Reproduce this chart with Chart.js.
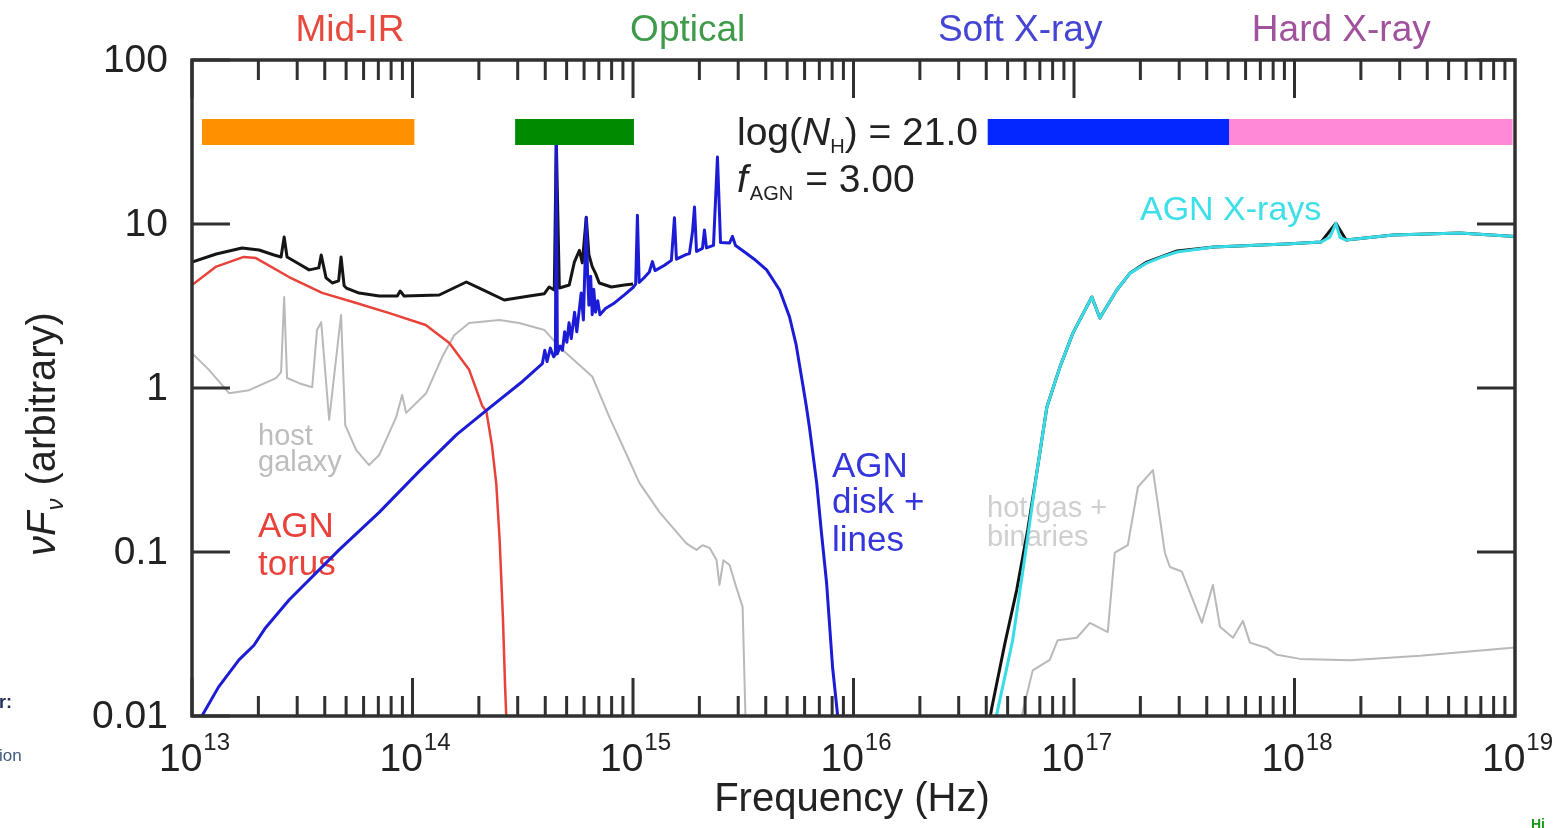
<!DOCTYPE html>
<html>
<head>
<meta charset="utf-8">
<script src="https://cdn.jsdelivr.net/npm/chart.js@4.4.1/dist/chart.umd.min.js"></script>
<style>
  html, body { margin: 0; padding: 0; background: #fff; overflow: hidden; }
  #wrap { position: relative; width: 1557px; height: 828px; }
  canvas { display: block; }
  .edge { position: absolute; font-family: "Liberation Sans", Arial, sans-serif; white-space: nowrap; }
</style>
</head>
<body>
<div id="wrap">
  <canvas id="sed" width="1557" height="828"></canvas>
  <div class="edge" style="left:-1px;top:692px;font-size:18px;font-weight:bold;color:#1d2f5a">r:</div>
  <div class="edge" style="left:-1px;top:746px;font-size:17px;color:#3d5a80">ion</div>
  <div class="edge" style="left:1531px;top:816px;font-size:14px;font-weight:bold;color:#1a9a1a">Hi</div>
</div>
<script>
// SED components, x = log10(frequency / Hz), y = nuF_nu (arbitrary)
const totalLogNu = [13.0, 13.11, 13.227, 13.304, 13.372, 13.404, 13.418, 13.431, 13.486, 13.531, 13.575, 13.586,
  13.608, 13.636, 13.665, 13.676, 13.69, 13.70, 13.758, 13.849, 13.931, 13.944, 13.962, 14.121, 14.244, 14.303,
  14.416, 14.53, 14.598, 14.62, 14.643, 14.652, 14.666, 14.711, 14.734, 14.757, 14.77, 14.788, 14.80, 14.815,
  14.83, 14.847, 14.902, 14.961, 15.0];
const totalFlux = [5.86, 6.56, 7.14, 6.94, 6.47, 6.29, 8.34, 6.29, 5.70, 5.25, 5.4, 6.47,
  4.69, 4.37, 4.5, 6.29, 4.2, 4.07, 3.79, 3.64, 3.64, 3.9, 3.64, 3.69, 4.43, 4.07,
  3.44, 3.64, 3.76, 4.13, 3.96, 33, 4.07, 4.25, 5.86, 6.9, 5.8, 11.0, 6.5, 5.5,
  5.0, 4.37, 4.13, 4.25, 4.3];

const totalXLogNu = [16.618, 16.627, 16.686, 16.74, 16.79, 16.831, 16.877, 16.936, 16.995, 17.081, 17.117, 17.194,
  17.253, 17.33, 17.4, 17.467, 17.635, 17.96, 18.12, 18.188, 18.234, 18.447, 18.75, 19.0];
const totalXFlux = [0.0095, 0.0112, 0.0275, 0.0586, 0.136, 0.303, 0.766, 1.34, 2.16, 3.59, 2.67, 3.96,
  5.0, 5.86, 6.35, 6.85, 7.24, 7.55, 7.76, 10.1, 7.98, 8.57, 8.8, 8.4];

const torusLogNu = [13.0, 13.11, 13.235, 13.29, 13.44, 13.59, 13.745, 13.895, 14.06, 14.167, 14.257, 14.316,
  14.335, 14.36, 14.38, 14.395, 14.41, 14.42, 14.428];
const torusFlux = [4.25, 5.5, 6.3, 6.2, 4.75, 3.8, 3.3, 2.86, 2.42, 1.88, 1.29, 0.78,
  0.72, 0.45, 0.26, 0.12, 0.04, 0.015, 0.008];

const hostLogNu = [13.0, 13.077, 13.168, 13.259, 13.381, 13.404, 13.418, 13.431, 13.486, 13.545, 13.567, 13.586,
  13.622, 13.676, 13.695, 13.744, 13.803, 13.849, 13.926, 13.953, 13.971, 14.062, 14.135, 14.189, 14.257, 14.394,
  14.484, 14.598, 14.666, 14.757, 14.816, 14.893, 14.961, 15.029, 15.12, 15.242, 15.288, 15.315, 15.347, 15.379,
  15.392, 15.41, 15.438, 15.465, 15.497, 15.51, 15.515];
const hostFlux = [1.63, 1.29, 0.93, 0.97, 1.15, 1.25, 3.59, 1.15, 1.07, 1.01, 2.26, 2.52,
  0.64, 2.79, 0.594, 0.42, 0.339, 0.39, 0.665, 0.906, 0.705, 0.93, 1.55, 2.10, 2.49, 2.60,
  2.49, 2.26, 1.78, 1.38, 1.17, 0.665, 0.42, 0.264, 0.175, 0.113, 0.103, 0.110, 0.106, 0.0893,
  0.063, 0.089, 0.0834, 0.063, 0.0463, 0.01, 0.0078];

const gasLogNu = [16.745, 16.759, 16.813, 16.89, 16.926, 17.013, 17.072, 17.153, 17.185, 17.244, 17.29, 17.358,
  17.412, 17.435, 17.489, 17.58, 17.63, 17.662, 17.721, 17.766, 17.798, 17.875, 17.921, 18.025, 18.252, 18.57, 19.0];
const gasFlux = [0.0085, 0.0096, 0.019, 0.022, 0.029, 0.030, 0.037, 0.0325, 0.099, 0.110, 0.249, 0.316,
  0.099, 0.081, 0.076, 0.037, 0.063, 0.035, 0.030, 0.038, 0.028, 0.026, 0.0236, 0.0223, 0.0219, 0.0233, 0.0262];

const diskLogNu = [13.045, 13.12, 13.213, 13.281, 13.33, 13.44, 13.667, 13.85, 14.03, 14.2, 14.335, 14.5, 14.589,
  14.60, 14.61, 14.625, 14.64, 14.648, 14.652, 14.657, 14.67, 14.68, 14.69, 14.70, 14.71, 14.72, 14.735, 14.745,
  14.765, 14.775, 14.782, 14.788, 14.794, 14.80, 14.808, 14.815, 14.822, 14.83, 14.84, 14.85, 14.875, 14.916,
  14.961, 15.0, 15.012, 15.02, 15.028, 15.05, 15.074, 15.088, 15.10, 15.143, 15.174, 15.188, 15.197, 15.24,
  15.256, 15.27, 15.279, 15.288, 15.315, 15.324, 15.333, 15.365, 15.383, 15.397, 15.438, 15.451, 15.465, 15.506,
  15.55, 15.606, 15.665, 15.71, 15.74, 15.769, 15.785, 15.80, 15.833, 15.855, 15.878, 15.905, 15.93];
const diskFlux = [0.01, 0.015, 0.022, 0.027, 0.034, 0.051, 0.103, 0.175, 0.31, 0.52, 0.73, 1.1, 1.41,
  1.7, 1.45, 1.75, 1.55, 1.6, 33, 1.62, 1.8, 1.7, 2.2, 1.9, 2.5, 2.0, 2.9, 2.2,
  3.8, 2.6, 5.5, 10.9, 5.0, 3.2, 4.8, 2.8, 4.0, 2.9, 3.4, 2.8, 3.05, 3.3,
  3.7, 4.1, 4.3, 11.3, 4.4, 4.7, 5.1, 5.9, 5.2, 5.6, 6.0, 10.9, 6.1, 6.5,
  6.6, 9.0, 12.7, 6.8, 7.1, 9.2, 7.15, 7.4, 25.6, 7.7, 7.66, 8.4, 7.4, 6.75,
  6.1, 5.25, 3.96, 2.71, 1.83, 1.07, 0.79, 0.578, 0.264, 0.13, 0.0647, 0.0199, 0.0095];

const xrayLogNu = [16.645, 16.654, 16.722, 16.777, 16.831, 16.877, 16.936, 16.995, 17.081, 17.117, 17.194, 17.253,
  17.33, 17.4, 17.467, 17.635, 17.96, 18.12, 18.16, 18.188, 18.206, 18.234, 18.447, 18.75, 19.0];
const xrayFlux = [0.0095, 0.0109, 0.029, 0.093, 0.303, 0.766, 1.34, 2.16, 3.59, 2.67, 3.96, 5.0,
  5.78, 6.3, 6.75, 7.24, 7.55, 7.76, 8.3, 10.1, 8.3, 7.98, 8.57, 8.8, 8.4];

// wavebands shown as bars across the top
const bandNames = ['Mid-IR', 'Optical', 'Soft X-ray', 'Hard X-ray'];
const bandLo = [1.11e13, 2.92e14, 4.06e16, 5.05e17];
const bandHi = [1.02e14, 1.01e15, 5.05e17, 9.75e18];
const bandLabelNu = [5.2e13, 1.77e15, 5.7e16, 1.63e18];
const bandLevel = 36.4;

const xTickExponents = ['13', '14', '15', '16', '17', '18', '19'];
const yTickValues = [0.01, 0.1, 1, 10, 100];
const yTickLabels = ['0.01', '0.1', '1', '10', '100'];

const bandColors = ['#ff9100', '#008a00', '#0426ff', '#ff89d6'];
const bandTextColors = ['#e64a3e', '#3f9b4a', '#4545d4', '#a0529c'];
const FONT = '"Liberation Sans", Arial, Helvetica, sans-serif';

const pts = (lx, f) => lx.map((v, i) => ({ x: 10 ** v, y: f[i] }));
function curve(label, lx, f, color, width, order) {
  return { label, data: pts(lx, f), borderColor: color, borderWidth: width, showLine: true,
    pointRadius: 0, order, borderJoinStyle: 'round' };
}

const datasets = [
  curve('AGN X-rays', xrayLogNu, xrayFlux, '#38dbe6', 3, 1),
  curve('total (X-ray)', totalXLogNu, totalXFlux, '#111', 3, 2),
  curve('AGN disk + lines', diskLogNu, diskFlux, '#1c1cd6', 3, 3),
  curve('AGN torus', torusLogNu, torusFlux, '#e8423a', 2.5, 4),
  curve('total', totalLogNu, totalFlux, '#151515', 3, 5),
  curve('host galaxy', hostLogNu, hostFlux, '#b9b9b9', 2, 6),
  curve('hot gas + binaries', gasLogNu, gasFlux, '#b9b9b9', 2, 7)
];
bandLo.forEach((lo, i) => datasets.push({
  label: bandNames[i], data: [{ x: lo, y: bandLevel }, { x: bandHi[i], y: bandLevel }],
  borderColor: bandColors[i], borderWidth: 26, borderCapStyle: 'butt', showLine: true, pointRadius: 0, order: 0
}));

function parts(ctx, list, x, y) {
  let cx = x;
  list.forEach(p => {
    ctx.font = (p.italic ? 'italic ' : '') + p.size + 'px ' + FONT;
    ctx.fillStyle = p.color || '#222';
    ctx.fillText(p.t, cx, y + (p.dy || 0));
    cx += ctx.measureText(p.t).width + (p.gap || 0);
  });
}
function text(ctx, t, x, y, size, color, align) {
  ctx.font = size + 'px ' + FONT;
  ctx.fillStyle = color;
  ctx.textAlign = align || 'left';
  ctx.fillText(t, x, y);
  ctx.textAlign = 'left';
}

const decor = {
  id: 'decor',
  beforeDatasetsDraw(chart) {
    const ctx = chart.ctx;
    ctx.save();
    ctx.textBaseline = 'alphabetic';
    text(ctx, 'host', 258, 445, 29, '#bdbdbd');
    text(ctx, 'galaxy', 258, 471, 29, '#bdbdbd');
    text(ctx, 'AGN', 258, 537, 35, '#e8423a');
    text(ctx, 'torus', 258, 575, 35, '#e8423a');
    text(ctx, 'AGN', 832, 477, 35, '#3535dc');
    text(ctx, 'disk +', 832, 513, 35, '#3535dc');
    text(ctx, 'lines', 832, 551, 35, '#3535dc');
    text(ctx, 'hot gas +', 987, 517, 29, '#cfcfcf');
    text(ctx, 'binaries', 987, 546, 29, '#cfcfcf');
    text(ctx, 'AGN X-rays', 1140, 220, 34, '#3ddfe8');
    ctx.restore();
  },
  afterDatasetsDraw(chart) {
    const { ctx, chartArea: a, scales: { x, y } } = chart;
    ctx.save();
    ctx.strokeStyle = '#303030';
    ctx.lineWidth = 3;
    ctx.beginPath();
    for (let e = 13; e < 19; e++) {
      for (let m = 1; m <= 9; m++) {
        const px = x.getPixelForValue(m * 10 ** e);
        const len = m === 1 ? 38 : 20;
        ctx.moveTo(px, a.bottom); ctx.lineTo(px, a.bottom - len);
        ctx.moveTo(px, a.top); ctx.lineTo(px, a.top + len);
      }
    }
    yTickValues.forEach(v => {
      const py = y.getPixelForValue(v);
      ctx.moveTo(a.left, py); ctx.lineTo(a.left + 38, py);
      ctx.moveTo(a.right, py); ctx.lineTo(a.right - 38, py);
    });
    ctx.stroke();
    ctx.lineWidth = 3.5;
    ctx.strokeRect(a.left, a.top, a.right - a.left, a.bottom - a.top);

    // y tick labels
    ctx.textBaseline = 'middle';
    yTickValues.forEach((v, i) => text(ctx, yTickLabels[i], 168, y.getPixelForValue(v) + 1, 39, '#222', 'right'));
    ctx.textBaseline = 'alphabetic';

    // x tick labels 10^n
    xTickExponents.forEach(ex => {
      const px = x.getPixelForValue(10 ** Number(ex));
      ctx.font = '39px ' + FONT;
      const w1 = ctx.measureText('10').width;
      ctx.font = '24px ' + FONT;
      const w2 = ctx.measureText(ex).width;
      const left = px + 2 - (w1 + w2) / 2;
      text(ctx, '10', left, 771, 39, '#222');
      text(ctx, ex, left + w1 + 1, 750, 24, '#222');
    });

    // axis titles
    text(ctx, 'Frequency (Hz)', 852, 811, 40, '#222', 'center');
    ctx.save();
    ctx.translate(55, 556);
    ctx.rotate(-Math.PI / 2);
    parts(ctx, [
      { t: '\u03bd', size: 40, italic: true },
      { t: 'F', size: 40, italic: true, gap: 1 },
      { t: '\u03bd', size: 24, italic: true, dy: 8, gap: 2 },
      { t: ' (arbitrary)', size: 40 }
    ], 0, 0);
    ctx.restore();

    // band names above the frame
    bandNames.forEach((n, i) => text(ctx, n, x.getPixelForValue(bandLabelNu[i]), 41, 37, bandTextColors[i], 'center'));

    // model parameters
    parts(ctx, [
      { t: 'log(', size: 39 },
      { t: 'N', size: 39, italic: true },
      { t: 'H', size: 20, dy: 8 },
      { t: ') = 21.0', size: 39 }
    ], 737, 145);
    parts(ctx, [
      { t: 'f', size: 39, italic: true, gap: 2 },
      { t: 'AGN', size: 20, dy: 8, gap: 12 },
      { t: '= 3.00', size: 39 }
    ], 737, 192);
    ctx.restore();
  }
};

new Chart(document.getElementById('sed'), {
  type: 'scatter',
  data: { datasets },
  options: {
    responsive: false,
    animation: false,
    devicePixelRatio: 1,
    layout: { padding: { left: 192, top: 60, right: 42, bottom: 112 } },
    plugins: { legend: { display: false }, tooltip: { enabled: false } },
    scales: {
      x: { type: 'logarithmic', min: 1e13, max: 1e19, display: false },
      y: { type: 'logarithmic', min: 0.01, max: 100, display: false }
    }
  },
  plugins: [decor]
});
</script>
</body>
</html>
